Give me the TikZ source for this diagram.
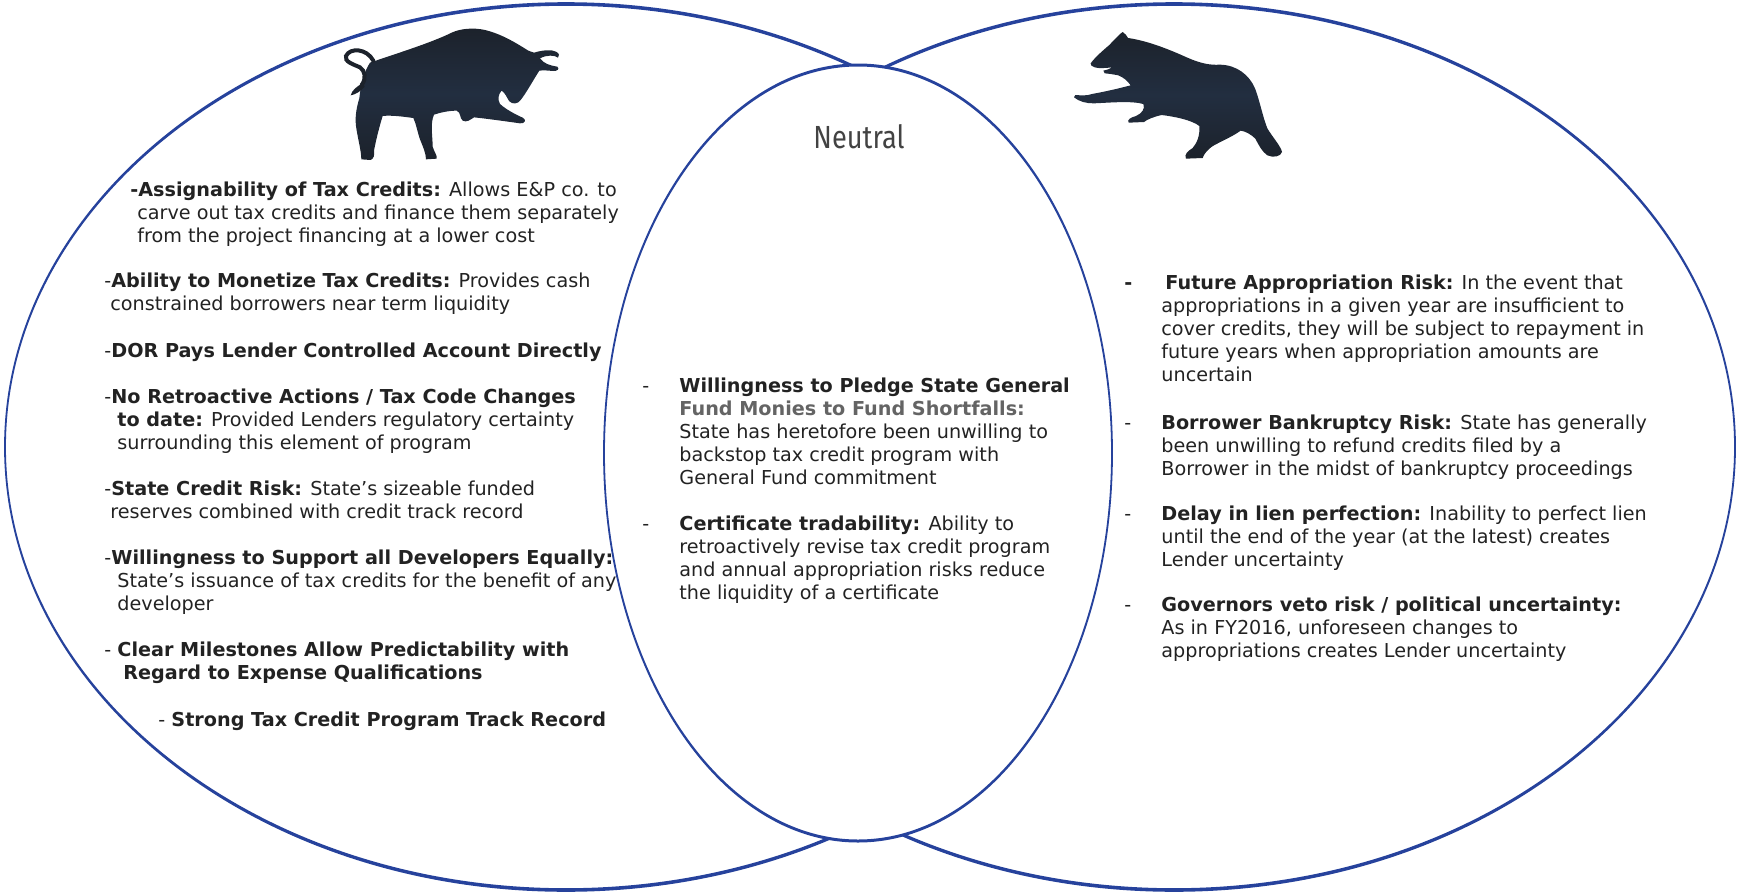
\documentclass[tikz,border=0pt]{standalone}
\usepackage{fontspec}
\setmainfont{DejaVu Sans}
\newfontfamily\neutralfont[FakeStretch=0.85]{Fira Sans}

\definecolor{venn}{RGB}{38,66,156}
\definecolor{ink}{RGB}{34,34,34}
\definecolor{beast}{RGB}{28,34,43}
\definecolor{beastmid}{RGB}{34,46,64}

\tikzset{
    listtext/.style={anchor=base west, align=left, inner sep=0pt, text=ink,
        font=\fontsize{9.6}{11.55}\selectfont},
    nlines/.style={yshift={-(#1-1)*11.55pt}},
    ring/.style={fill=venn, even odd rule},
    silhouette/.style={top color=beast, bottom color=beast, middle color=beastmid}
}

\begin{document}
\begin{tikzpicture}[x=0.5pt,y=-0.5pt]
    \useasboundingbox (0,0) rectangle (1740,894);

    % outer ellipses, cut away inside the neutral one
    \begin{scope}
        \clip (0,0) rectangle (858,894);
        \begin{scope}[even odd rule]
            \clip (0,0) rectangle (1740,894) (858,453) ellipse [x radius=254, y radius=388];
            \fill[ring] (566,447) ellipse [x radius=561.9, y radius=444.8] (566,447) ellipse [x radius=560.1, y radius=441.2];
        \end{scope}
    \end{scope}
    \begin{scope}
        \clip (858,0) rectangle (1740,894);
        \begin{scope}[even odd rule]
            \clip (0,0) rectangle (1740,894) (858,453) ellipse [x radius=254, y radius=388];
            \fill[ring] (1174,447) ellipse [x radius=561.9, y radius=444.8] (1174,447) ellipse [x radius=560.1, y radius=441.2];
        \end{scope}
    \end{scope}
    \fill[ring] (858,453) ellipse [x radius=254.9, y radius=389.5] (858,453) ellipse [x radius=253.1, y radius=386.5];

    % bull
    \begin{scope}[shift={(320,20)},scale=1/3]
        \path[silhouette] (150,128)
            .. controls (230,100) and (330,70) .. (395,38)
            .. controls (420,26) and (460,22) .. (495,30)
            .. controls (545,42) and (590,70) .. (625,92)
            -- (642,98)
            .. controls (668,90) and (695,88) .. (708,95)
            .. controls (718,100) and (720,108) .. (714,113)
            .. controls (705,105) and (680,104) .. (660,115)
            .. controls (670,130) and (690,137) .. (712,140)
            .. controls (720,146) and (712,154) .. (700,153)
            .. controls (685,152) and (670,150) .. (658,152)
            .. controls (640,180) and (618,220) .. (602,240)
            .. controls (594,252) and (578,254) .. (568,244)
            .. controls (560,232) and (555,218) .. (545,212)
            .. controls (535,222) and (532,238) .. (540,252)
            .. controls (560,270) and (590,285) .. (608,293)
            .. controls (620,298) and (616,312) .. (600,310)
            .. controls (565,305) and (500,296) .. (462,292)
            .. controls (450,300) and (440,308) .. (428,302)
            .. controls (418,294) and (424,278) .. (410,272)
            .. controls (385,272) and (360,278) .. (342,284)
            .. controls (330,310) and (338,350) .. (338,380)
            .. controls (342,395) and (352,405) .. (350,416)
            -- (318,418)
            .. controls (318,400) and (308,378) .. (300,358)
            .. controls (292,335) and (288,310) .. (280,294)
            .. controls (250,290) and (215,285) .. (188,288)
            .. controls (178,320) and (168,360) .. (162,392)
            .. controls (164,404) and (162,416) .. (152,420)
            -- (124,418)
            .. controls (124,392) and (112,350) .. (108,318)
            .. controls (104,285) and (112,255) .. (118,235)
            .. controls (122,195) and (132,155) .. (150,128) -- cycle;
        \draw[beast, line width=2pt, line cap=round] (160,122)
            .. controls (140,85) and (90,82) .. (78,108)
            .. controls (72,125) and (100,133) .. (120,142)
            .. controls (135,152) and (140,175) .. (125,195);
        \fill[beast] (128,190) .. controls (112,198) and (96,210) .. (92,226)
            .. controls (106,224) and (122,214) .. (134,200) -- cycle;
    \end{scope}

    % bear
    \begin{scope}[shift={(1060,20)},scale=1/3]
        \path[silhouette] (92,130)
            .. controls (105,112) and (128,92) .. (148,75)
            .. controls (160,62) and (172,50) .. (180,42)
            -- (188,36) .. controls (196,40) and (200,48) .. (204,54)
            .. controls (260,62) and (320,85) .. (380,112)
            .. controls (420,130) and (450,136) .. (480,134)
            .. controls (530,135) and (568,165) .. (585,205)
            .. controls (600,245) and (608,290) .. (622,325)
            .. controls (638,352) and (662,378) .. (666,396)
            .. controls (662,410) and (640,414) .. (622,406)
            .. controls (606,395) and (596,375) .. (586,356)
            .. controls (572,342) and (556,334) .. (542,332)
            .. controls (520,348) and (488,362) .. (462,376)
            .. controls (442,388) and (432,402) .. (428,414)
            -- (378,416)
            .. controls (372,404) and (382,394) .. (398,384)
            .. controls (412,368) and (420,345) .. (418,318)
            .. controls (395,300) and (345,290) .. (305,285)
            .. controls (282,290) and (262,298) .. (252,306)
            -- (206,308)
            .. controls (200,300) and (212,292) .. (228,288)
            .. controls (246,280) and (256,266) .. (250,252)
            .. controls (215,242) and (150,248) .. (102,250)
            .. controls (80,251) and (56,244) .. (42,232)
            -- (46,225)
            .. controls (62,226) and (80,228) .. (96,222)
            .. controls (140,214) and (182,204) .. (212,196)
            .. controls (202,182) and (190,172) .. (175,166)
            .. controls (160,163) and (146,161) .. (134,160)
            -- (130,152)
            .. controls (140,150) and (150,147) .. (156,142)
            .. controls (140,144) and (115,146) .. (104,142)
            .. controls (96,139) and (90,136) .. (92,130) -- cycle;
    \end{scope}

    \node[font=\neutralfont\fontsize{16}{19}\selectfont, text=ink!85] (neutral) at (859,137) {Neutral};

    % bull side
    \node[listtext, nlines=3] (up1) at (130,196) {\textbf{-Assignability of Tax Credits:} Allows E\&P co. to\\\hspace*{3.5pt}carve out tax credits and finance them separately\\\hspace*{3.5pt}from the project financing at a lower cost};
    \node[listtext, nlines=2] (up2) at (104,287) {-\textbf{Ability to Monetize Tax Credits:} Provides cash\\\hspace*{3pt}constrained borrowers near term liquidity};
    \node[listtext] (up3) at (104,357) {-\textbf{DOR Pays Lender Controlled Account Directly}};
    \node[listtext, nlines=3] (up4) at (104,403) {-\textbf{No Retroactive Actions / Tax Code Changes}\\\hspace*{6.5pt}\textbf{to date:} Provided Lenders regulatory certainty\\\hspace*{6.5pt}surrounding this element of program};
    \node[listtext, nlines=2] (up5) at (104,495) {-\textbf{State Credit Risk:} State’s sizeable funded\\\hspace*{3pt}reserves combined with credit track record};
    \node[listtext, nlines=3] (up6) at (104,564) {-\textbf{Willingness to Support all Developers Equally:}\\\hspace*{6.5pt}State’s issuance of tax credits for the benefit of any\\\hspace*{6.5pt}developer};
    \node[listtext, nlines=2] (up7) at (104,656) {- \textbf{Clear Milestones Allow Predictability with}\\\hspace*{9.5pt}\textbf{Regard to Expense Qualifications}};
    \node[listtext] (up8) at (158,726) {- \textbf{Strong Tax Credit Program Track Record}};

    % neutral
    \node[listtext] (flatdash1) at (642,392) {-};
    \node[listtext, nlines=5] (flat1) at (679,392) {\textbf{Willingness to Pledge State General}\\\textcolor{ink!70}{\textbf{Fund Monies to Fund Shortfalls:}}\\State has heretofore been unwilling to\\backstop tax credit program with\\General Fund commitment};
    \node[listtext] (flatdash2) at (642,530) {-};
    \node[listtext, nlines=4] (flat2) at (679,530) {\textbf{Certificate tradability:} Ability to\\retroactively revise tax credit program\\and annual appropriation risks reduce\\the liquidity of a certificate};

    % bear side
    \node[listtext] (downdash1) at (1124,289) {\textbf{-}};
    \node[listtext, nlines=5] (down1) at (1161,289) {\hspace*{2pt}\textbf{Future Appropriation Risk:} In the event that\\appropriations in a given year are insufficient to\\cover credits, they will be subject to repayment in\\future years when appropriation amounts are\\uncertain};
    \node[listtext] (downdash2) at (1124,429) {-};
    \node[listtext, nlines=3] (down2) at (1161,429) {\textbf{Borrower Bankruptcy Risk:} State has generally\\been unwilling to refund credits filed by a\\Borrower in the midst of bankruptcy proceedings};
    \node[listtext] (downdash3) at (1124,520) {-};
    \node[listtext, nlines=3] (down3) at (1161,520) {\textbf{Delay in lien perfection:} Inability to perfect lien\\until the end of the year (at the latest) creates\\Lender uncertainty};
    \node[listtext] (downdash4) at (1124,611) {-};
    \node[listtext, nlines=3] (down4) at (1161,611) {\textbf{Governors veto risk / political uncertainty:}\\As in FY2016, unforeseen changes to\\appropriations creates Lender uncertainty};
\end{tikzpicture}
\end{document}
